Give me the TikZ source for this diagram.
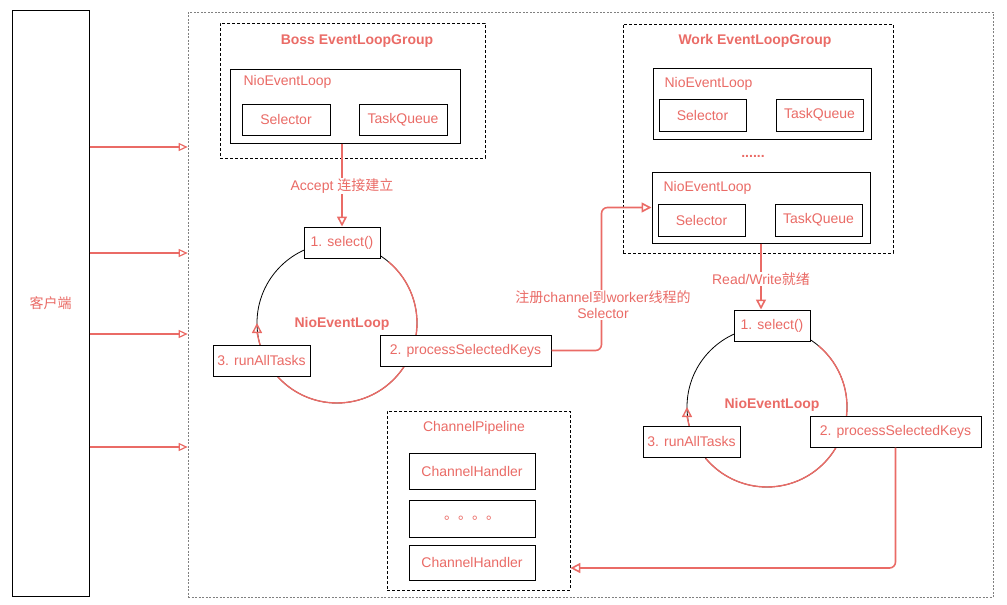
\documentclass[tikz,border=0pt]{standalone}
\usepackage{fontspec}
\setmainfont{Liberation Sans}
\newfontfamily\cjk{Noto Sans CJK SC}
\usetikzlibrary{arrows.meta}
\definecolor{netred}{HTML}{EA6B66}

\begin{document}
\begin{tikzpicture}[x=1pt, y=-1pt, font=\fontsize{14}{16}\selectfont,
    box/.style={draw, fill=white, line width=1pt, text=netred, inner sep=0pt},
    grp/.style={draw, dashed, dash pattern=on 3pt off 2pt, line width=0.7pt, inner sep=0pt},
    title/.style={text=netred, font=\fontsize{14}{16}\selectfont\bfseries},
    conn/.style={draw=netred, line width=1.6pt, rounded corners=6pt, -{Triangle[open, length=10pt, width=10pt]}},
    lbl/.style={text=netred, fill=white, inner sep=1pt, align=center},
    loopred/.style={netred, line width=1.4pt}]
    \path[use as bounding box] (0,0) rectangle (1007,605);

    \node[draw=gray, dash pattern=on 2pt off 1.5pt, line width=0.6pt, inner sep=0pt,
        minimum width=805pt, minimum height=585pt] (server) at (590.5,304.5) {};
    \node[box, minimum width=77pt, minimum height=586pt] (client) at (50.5,303) {\cjk 客户端};
    \foreach \y in {147,253,334,447}
        \draw[netred, line width=1.2pt, -{Triangle[open, length=9pt, width=8pt]}]
        (client.east |- 0,\y) -- (server.west |- 0,\y);

    \node[grp, minimum width=265pt, minimum height=135pt] (bossgrp) at (352.5,90.5) {};
    \node[title] (bosst) at (357,41) {Boss EventLoopGroup};
    \node[box, minimum width=230pt, minimum height=74pt] (bossnel) at (345,106) {};
    \node[text=netred, anchor=west] (bossnelt) at (240,82) {NioEventLoop};
    \node[box, minimum width=88pt, minimum height=31pt] (bosssel) at (286,119.5) {Selector};
    \node[box, minimum width=88pt, minimum height=31pt] (bosstq) at (403,119.5) {TaskQueue};

    \coordinate (bc) at (337,323);
    \draw[line width=0.8pt] (bc) circle[radius=80];
    \draw[loopred] (bc) ++(-50:80) arc[start angle=-50, end angle=10, radius=80];
    \draw[loopred] (bc) ++(30:80) arc[start angle=30, end angle=140, radius=80];
    \draw[loopred, -{Triangle[open, length=10pt, width=10pt]}] (bc) ++(162:80) arc[start angle=162, end angle=180, radius=80];
    \node[title] (bossloopt) at (342,324) {NioEventLoop};
    \node[box, minimum width=76pt, minimum height=31pt] (bossstep1) at (342,242.5) {1. select()};
    \node[box, minimum width=171pt, minimum height=31pt] (bossstep2) at (465.5,350.5) {2. processSelectedKeys};
    \node[box, minimum width=97pt, minimum height=31pt] (bossstep3) at (261.5,360.5) {3. runAllTasks};
    \draw[conn] (bossnel.south -| bossstep1) -- (bossstep1.north);
    \node[lbl] (acceptl) at (342,186) {Accept {\cjk 连接建立}};

    \node[grp, minimum width=270pt, minimum height=229pt] (workgrp) at (758,138.5) {};
    \node[title] (workt) at (755,41) {Work EventLoopGroup};
    \node[box, minimum width=218pt, minimum height=71pt] (worknel1) at (762,103.5) {};
    \node[text=netred, anchor=west] (worknelt1) at (661,84) {NioEventLoop};
    \node[box, minimum width=87pt, minimum height=32pt] (worksel1) at (702.5,115) {Selector};
    \node[box, minimum width=87pt, minimum height=32pt] (worktq1) at (819.5,115) {TaskQueue};
    \node[text=netred, font=\fontsize{14}{16}\selectfont\bfseries] (workdots) at (753,156) {......};
    \node[box, minimum width=218pt, minimum height=71pt] (worknel2) at (761,207.5) {};
    \node[text=netred, anchor=west] (worknelt2) at (660,188) {NioEventLoop};
    \node[box, minimum width=87pt, minimum height=32pt] (worksel2) at (701.5,220) {Selector};
    \node[box, minimum width=87pt, minimum height=32pt] (worktq2) at (818.5,220) {TaskQueue};

    \coordinate (wc) at (767,407);
    \draw[line width=0.8pt] (wc) circle[radius=80];
    \draw[loopred] (wc) ++(-50:80) arc[start angle=-50, end angle=10, radius=80];
    \draw[loopred] (wc) ++(30:80) arc[start angle=30, end angle=140, radius=80];
    \draw[loopred, -{Triangle[open, length=10pt, width=10pt]}] (wc) ++(162:80) arc[start angle=162, end angle=180, radius=80];
    \node[title] (workloopt) at (772,405) {NioEventLoop};
    \node[box, minimum width=76pt, minimum height=31pt] (workstep1) at (772,325.5) {1. select()};
    \node[box, minimum width=171pt, minimum height=31pt] (workstep2) at (895.5,431.5) {2. processSelectedKeys};
    \node[box, minimum width=97pt, minimum height=31pt] (workstep3) at (691.5,441.5) {3. runAllTasks};
    \draw[conn] (worknel2.south) -- (worknel2.south |- workstep1.north);
    \node[lbl] (rwl) at (761,279) {Read/Write{\cjk 就绪}};

    \node[grp, minimum width=183pt, minimum height=179pt] (pipe) at (478.5,500.5) {};
    \node[text=netred] (pipet) at (474,428) {ChannelPipeline};
    \node[box, minimum width=126pt, minimum height=36pt] (handler1) at (472,471) {ChannelHandler};
    \node[box, minimum width=126pt, minimum height=37pt] (handlerdots) at (472,518.5) {\cjk 。。。。};
    \node[box, minimum width=126pt, minimum height=35pt] (handler2) at (472,562.5) {ChannelHandler};

    \draw[conn] (bossstep2.east) -- ++(50,0) |- (worknel2.west);
    \node[lbl] (regl) at (603,305) {{\cjk 注册}channel{\cjk 到}worker{\cjk 线程的}\\Selector};
    \draw[conn] (workstep2.south) |- (pipe.east |- 0,568);
\end{tikzpicture}
\end{document}
